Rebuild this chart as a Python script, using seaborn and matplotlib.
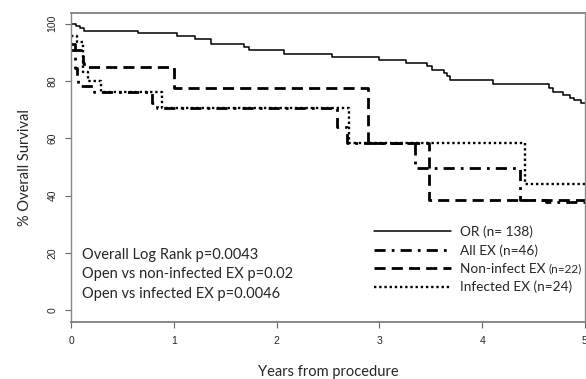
import pandas as pd
import matplotlib
matplotlib.use("Agg")
import matplotlib.pyplot as plt
import seaborn as sns

# Kaplan-Meier steps (years, % surviving)
or_t = [0, 0.04, 0.08, 0.12, 0.65, 1.03, 1.20, 1.36, 1.68, 1.73, 2.07, 2.54, 3.00, 3.26,
        3.46, 3.51, 3.63, 3.66, 3.69, 4.11, 4.65, 4.69, 4.79, 4.86, 4.89, 4.96, 5.0]
or_s = [100, 99.3, 98.4, 97.6, 96.7, 95.6, 94.8, 93.0, 91.9, 90.9, 89.4, 88.4, 87.4, 86.3,
        85.1, 83.9, 82.8, 81.6, 80.2, 79.0, 77.5, 76.3, 75.2, 74.0, 73.4, 72.3, 72.3]

allex_t = [0, 0.03, 0.05, 0.06, 0.22, 0.78, 0.83, 2.59, 2.68, 3.35, 4.37, 4.62, 5.0]
allex_s = [93.0, 84.7, 81.0, 78.3, 76.3, 72.4, 70.6, 64.0, 58.4, 49.6, 38.5, 37.8, 37.8]

nonex_t = [0, 0.11, 0.12, 1.00, 2.89, 3.48, 5.0]
nonex_s = [90.9, 86.4, 84.8, 77.5, 58.4, 38.5, 38.5]

infex_t = [0, 0.05, 0.11, 0.16, 0.29, 0.88, 2.70, 4.42, 5.0]
infex_s = [95.8, 93.5, 83.3, 80.0, 76.3, 70.6, 58.4, 44.0, 44.0]

groups = ['OR (n= 138)', 'All EX (n=46)', 'Non-infect EX', 'Infected EX (n=24)']
xticks = [0, 1, 2, 3, 4, 5]
yticks = [0, 20, 40, 60, 80, 100]
stats = ['Overall Log Rank p=0.0043',
         'Open vs non-infected EX p=0.02',
         'Open vs infected EX p=0.0046']

frames = []
for g, t, s in zip(groups, [or_t, allex_t, nonex_t, infex_t],
                   [or_s, allex_s, nonex_s, infex_s]):
    frames.append(pd.DataFrame({'time': t, 'surv': s, 'group': g}))
df = pd.concat(frames, ignore_index=True)

sns.set_theme(style="white")
plt.rcParams['font.family'] = ['Lato', 'DejaVu Sans']

fig = plt.figure(figsize=(5.86, 3.79), dpi=100)
ax = fig.add_axes([0.122, 0.150, 0.876, 0.816])

sns.lineplot(data=df, x='time', y='surv', hue='group', style='group', size='group',
             palette={g: 'black' for g in groups},
             dashes={groups[0]: '', groups[1]: (4, 2.2, 1, 2.2),
                     groups[2]: (4, 2.2), groups[3]: (1, 1.2)},
             sizes={groups[0]: 1.1, groups[1]: 2.0, groups[2]: 2.0, groups[3]: 1.7},
             estimator=None, sort=False, drawstyle='steps-post', legend=False, ax=ax)

ax.set_xlim(0, 5)
ax.set_ylim(-4.2, 103.8)
ax.set_xticks(xticks)
ax.set_yticks(yticks)
ax.set_xticklabels([str(v) for v in xticks], family='Liberation Sans', fontsize=7.5)
ax.set_yticklabels([str(v) for v in yticks], family='Liberation Sans', fontsize=7.5,
                   rotation=90, va='center')
ax.tick_params(axis='both', direction='out', length=4, width=0.8, color='#666666',
               left=True, bottom=True, pad=6)
ax.set_xlabel('Years from procedure', fontsize=10.5, labelpad=14)
ax.set_ylabel('% Overall Survival', fontsize=10.5, labelpad=11)
for side, sp in ax.spines.items():
    sp.set_color('#888888')
    sp.set_linewidth(1.4 if side in ('top', 'bottom') else 1.0)

for i, line in enumerate(stats):
    ax.text(0.021, 0.218 - i * 0.063, line, transform=ax.transAxes, fontsize=10.5,
            va='center', ha='left')

leg = ax.legend(handles=ax.lines[:4], labels=groups, loc='upper left',
                bbox_to_anchor=(0.577, 0.335), frameon=False, fontsize=9.8,
                handlelength=5.6, handletextpad=0.65, labelspacing=0.45, borderpad=0)
fig.canvas.draw()
ax.annotate('(n=22)', xy=(1, 0), xycoords=leg.get_texts()[2], xytext=(2.5, 0.5),
            textcoords='offset points', fontsize=8.5, va='bottom', ha='left')

fig.savefig('out.png', dpi=100)
